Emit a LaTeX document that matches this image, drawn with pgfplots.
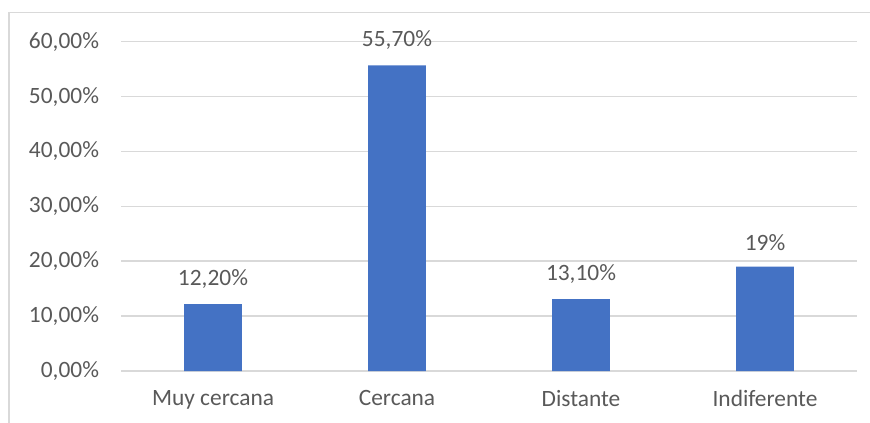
\documentclass[border=0pt]{standalone}
\usepackage{pgfplots}
\pgfplotsset{compat=1.18}
\usepackage{fontspec}
\setmainfont{Carlito}
\definecolor{barblue}{HTML}{4472C4}
\definecolor{gridgray}{HTML}{D9D9D9}
\definecolor{txtgray}{HTML}{595959}
\begin{document}
\begin{tikzpicture}
\fontsize{23.4bp}{28bp}\selectfont
\begin{axis}[
  at={(121bp,52bp)}, anchor=south west,
  width=736bp, height=329.3bp, scale only axis,
  xmin=-0.5, xmax=3.5, ymin=0, ymax=60,
  axis line style={draw=none},
  ytick={0,10,...,60},
  yticklabels={{0,00\%},{10,00\%},{20,00\%},{30,00\%},{40,00\%},{50,00\%},{60,00\%}},
  xtick={0,1,2,3},
  xticklabels={Muy cercana,Cercana,Distante,Indiferente},
  major tick length=0pt,
  ymajorgrids, grid style={gridgray, line width=1.5bp},
  tick label style={font=\fontsize{23.4bp}{28bp}\selectfont, text=txtgray},
  yticklabel style={xshift=-14bp},
  xticklabel style={yshift=-11bp},
  /pgf/number format/assume math mode=true,
  clip=false,
  ybar, bar width=0.315,
  nodes near coords,
  point meta=explicit symbolic,
  every node near coord/.append style={font=\fontsize{23.4bp}{28bp}\selectfont, text=txtgray, yshift=8bp},
]
\addplot[fill=barblue, draw=none] coordinates {
  (0,12.2) [12,20\%]
  (1,55.7) [55,70\%]
  (2,13.1) [13,10\%]
  (3,19.0) [19\%]
};
\end{axis}
\draw[gridgray, line width=1.5bp] (9bp,0) -- (9bp,410.5bp) -- (870bp,410.5bp);
\pgfresetboundingbox
\path (0,0) rectangle (870bp,423bp);
\end{tikzpicture}
\end{document}
